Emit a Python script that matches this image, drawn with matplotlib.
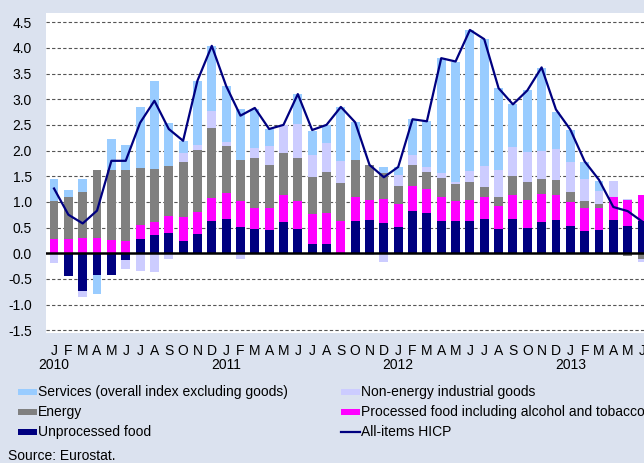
import numpy as np
import matplotlib.pyplot as plt
from matplotlib.patches import Rectangle
from matplotlib.lines import Line2D

plt.rcParams['font.family'] = ['Liberation Sans', 'DejaVu Sans']

# Jan 2010 - Jun 2013, contributions in percentage points
months = list('JFMAMJJASOND') * 3 + list('JFMAMJ')
years = ['2010', '2011', '2012', '2013']

unprocessed = [0.00, -0.45, -0.73, -0.42, -0.43, -0.14, 0.285, 0.35, 0.40, 0.24, 0.38, 0.635,
               0.66, 0.51, 0.48, 0.45, 0.60, 0.47, 0.18, 0.17, 0.00, 0.62, 0.64, 0.58,
               0.51, 0.83, 0.78, 0.635, 0.62, 0.62, 0.675, 0.467, 0.675, 0.50, 0.61, 0.65,
               0.525, 0.43, 0.45, 0.64, 0.525, 0.62]
processed = [0.285, 0.27, 0.30, 0.30, 0.25, 0.24, 0.26, 0.26, 0.32, 0.46, 0.42, 0.435,
             0.51, 0.51, 0.41, 0.425, 0.54, 0.55, 0.58, 0.61, 0.62, 0.47, 0.40, 0.48,
             0.44, 0.47, 0.465, 0.455, 0.39, 0.425, 0.415, 0.453, 0.46, 0.53, 0.545, 0.48,
             0.465, 0.445, 0.425, 0.45, 0.52, 0.515]
energy = [0.735, 0.83, 0.89, 1.32, 1.38, 1.38, 1.12, 1.04, 0.97, 1.08, 1.21, 1.36,
          0.91, 0.80, 0.96, 0.85, 0.82, 0.83, 0.72, 0.81, 0.755, 0.73, 0.685, 0.51,
          0.36, 0.42, 0.33, 0.38, 0.34, 0.335, 0.195, 0.17, 0.375, 0.35, 0.295, 0.29,
          0.21, 0.135, 0.085, 0.00, -0.06, -0.11]
neig = [-0.19, 0.00, -0.12, 0.00, 0.00, -0.16, -0.34, -0.37, -0.12, 0.17, 0.10, 0.35,
        0.09, -0.11, 0.19, 0.37, 0.54, 0.67, 0.44, 0.56, 0.43, 0.00, -0.03, -0.175,
        0.21, 0.19, 0.105, 0.085, 0.03, 0.215, 0.405, 0.54, 0.55, 0.585, 0.55, 0.61,
        0.58, 0.44, 0.25, 0.32, 0.01, -0.065]
services = [0.43, 0.13, 0.26, -0.37, 0.60, 0.48, 1.19, 1.71, 0.85, 0.24, 1.25, 1.26,
            1.09, 0.98, 0.76, 0.325, 0.00, 0.58, 0.47, 0.35, 1.045, 0.735, 0.00, 0.10,
            0.15, 0.70, 0.89, 2.245, 2.355, 2.755, 2.48, 1.585, 0.845, 1.205, 1.605, 0.72,
            0.63, 0.33, 0.20, 0.00, 0.00, 0.00]
hicp = [1.26, 0.75, 0.58, 0.83, 1.80, 1.80, 2.54, 2.97, 2.42, 2.19, 3.36, 4.04,
        3.26, 2.68, 2.83, 2.42, 2.50, 3.10, 2.40, 2.50, 2.85, 2.55, 1.72, 1.48,
        1.68, 2.61, 2.57, 3.80, 3.735, 4.35, 4.17, 3.215, 2.90, 3.17, 3.62, 2.80,
        2.41, 1.79, 1.43, 0.90, 0.82, 0.62]

navy = '#000080'
series = [
    (unprocessed, navy, 'Unprocessed food'),
    (processed, '#FF00FF', 'Processed food including alcohol and tobacco'),
    (energy, '#808080', 'Energy'),
    (neig, '#CCCCFF', 'Non-energy industrial goods'),
    (services, '#99CCFF', 'Services (overall index excluding goods)'),
]

fs = 10
bg = '#DBE2EF'
W, H = 644, 463
fig = plt.figure(figsize=(W / 100, H / 100), dpi=100, facecolor=bg)
ax = fig.add_axes([46 / W, 1 - 333 / H, 1 - 46 / W, (333 - 13) / H])
ax.set_facecolor('white')

x = np.arange(len(hicp))
pos_base = np.zeros(len(x))
neg_base = np.zeros(len(x))
for vals, col, lab in series:
    v = np.array(vals)
    bottom = np.where(v >= 0, pos_base, neg_base)
    ax.bar(x, v, 0.62, bottom=bottom, color=col, linewidth=0, zorder=2)
    pos_base += np.clip(v, 0, None)
    neg_base += np.clip(v, None, 0)

ax.plot(x, hicp, color=navy, lw=1.6, zorder=4)
ax.axhline(0, color='black', lw=1.8, zorder=3)

yt = np.arange(-1.5, 4.51, 0.5)
for y in yt:
    if abs(y) > 1e-9:
        ax.axhline(y, color='#555555', lw=0.8, ls=(0, (3, 2)), zorder=1)
ax.set_yticks(yt)
ax.set_yticklabels(['%.1f' % v for v in yt], fontsize=fs)
ax.set_ylim(-1.555, 4.68)
ax.set_xlim(-0.56, 41.14)
ax.set_xticks(x)
ax.set_xticklabels(months, fontsize=fs)
ax.tick_params(axis='y', length=0, pad=10)
ax.tick_params(axis='x', length=0, pad=8)
for s in ax.spines.values():
    s.set_visible(False)

for i, yr in enumerate(years):
    ax.text(12 * i, -0.1, yr, transform=ax.get_xaxis_transform(),
            ha='center', va='center', fontsize=fs)

# legend, drawn by hand in two columns
rows = [392, 412, 432]
col1 = [('#99CCFF', series[4][2]), ('#808080', 'Energy'), (navy, 'Unprocessed food')]
col2 = [('#CCCCFF', series[3][2]), ('#FF00FF', series[1][2]), (None, 'All-items HICP')]
for (px, entries) in [(18, col1), (341, col2)]:
    for ry, (col, lab) in zip(rows, entries):
        if col is None:
            fig.add_artist(Line2D([px / W, (px + 19) / W], [1 - ry / H] * 2,
                                  color=navy, lw=1.6))
        else:
            fig.add_artist(Rectangle((px / W, 1 - (ry + 3) / H), 19 / W, 6 / H,
                                     color=col, lw=0))
        fig.text((px + 20) / W, 1 - ry / H, lab, fontsize=fs, va='center')

fig.text(8 / W, 1 - 456 / H, 'Source: Eurostat.', fontsize=fs, va='center')

fig.savefig('out.png', dpi=100, facecolor=bg)
